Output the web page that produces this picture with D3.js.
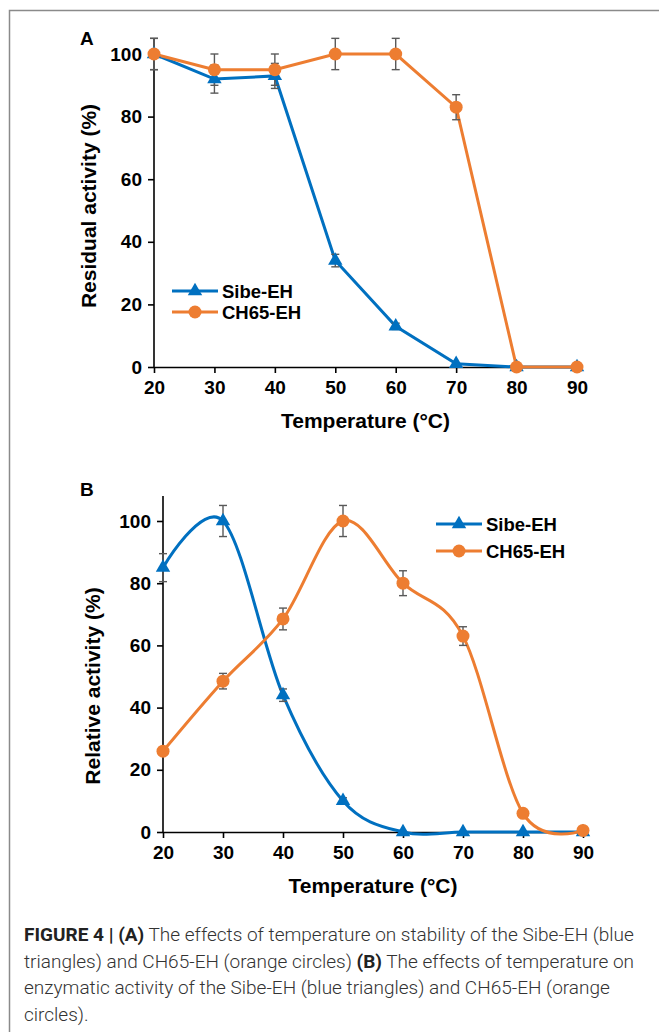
<!DOCTYPE html>
<html>
<head>
<meta charset="utf-8">
<script src="https://cdn.jsdelivr.net/npm/d3@7"></script>
<style>
  body { margin: 0; background: #fff; }
  svg { display: block; }
  .tick text { font-family: "Liberation Sans", Arial, sans-serif; font-weight: bold; }
</style>
</head>
<body>
<div id="figura"></div>
<script>
let temps = [20, 30, 40, 50, 60, 70, 80, 90];
let yTicks = [0, 20, 40, 60, 80, 100];

// panel A - stability (residual activity)
let stabSibe = [100, 92, 93, 34, 13, 1, 0, 0];
let stabSibeErr = [5, 4.5, 4, 2, 1, 0, 0, 0];
let stabCh65 = [100, 95, 95, 100, 100, 83, 0, 0];
let stabCh65Err = [5, 5, 5, 5, 5, 4, 0, 0];

// panel B - activity (relative activity)
let actSibe = [85, 100, 44, 10, 0, 0, 0, 0];
let actSibeErr = [4.5, 5, 2, 1, 0, 0, 0, 0];
let actCh65 = [26, 48.5, 68.5, 100, 80, 63, 6, 0.5];
let actCh65Err = [1, 2.5, 3.5, 5, 4, 3, 0, 0];

let seriesNames = ["Sibe-EH", "CH65-EH"];

let captionLines = [
  [["FIGURE 4 | (A)", true], [" The effects of temperature on stability of the Sibe-EH (blue", false]],
  [["triangles) and CH65-EH (orange circles) ", false], ["(B)", true], [" The effects of temperature on", false]],
  [["enzymatic activity of the Sibe-EH (blue triangles) and CH65-EH (orange", false]],
  [["circles).", false]]
];

let blu = "#0070C0",
    arancio = "#ED7D31",
    grigio = "#595959";

let width = 659,
    height = 1035;

let svg = d3.select("#figura")
  .append("svg")
  .attr("width", width)
  .attr("height", height);

// cornice
svg.append("path")
  .attr("d", "M9.5,1032 V10.5 H659")
  .attr("fill", "none")
  .attr("stroke", "#8a8a8a")
  .attr("stroke-width", 1.5);

function pannello(cfg) {
  let g = svg.append("g");

  let x = d3.scaleLinear().domain([20, 90]).range([cfg.x0, cfg.x1]);
  let y = d3.scaleLinear().domain([0, 100]).range([cfg.y0, cfg.y100]);

  // axes
  let xAxis = g.append("g")
    .attr("transform", "translate(0," + cfg.y0 + ")")
    .call(d3.axisBottom(x).tickValues(temps).tickSize(6).tickPadding(8).tickSizeOuter(0));
  let yAxis = g.append("g")
    .attr("transform", "translate(" + cfg.x0 + ",0)")
    .call(d3.axisLeft(y).tickValues(yTicks).tickSize(6).tickPadding(6).tickSizeOuter(0));

  yAxis.select(".domain").attr("d", "M0," + cfg.y0 + "V" + y(cfg.ymax));
  [xAxis, yAxis].forEach(a => {
    a.select(".domain").attr("stroke", "#000").attr("stroke-width", 1.6);
    a.selectAll(".tick line").attr("stroke", "#000").attr("stroke-width", 1.6);
    a.selectAll(".tick text").attr("font-size", 19).attr("fill", "#000");
  });

  // labels
  g.append("text")
    .attr("x", cfg.labX).attr("y", cfg.labY)
    .attr("font-family", "Liberation Sans, Arial, sans-serif")
    .attr("font-weight", "bold").attr("font-size", 19)
    .text(cfg.lettera);

  g.append("text")
    .attr("x", (cfg.x0 + cfg.x1) / 2).attr("y", cfg.y0 + 61)
    .attr("text-anchor", "middle")
    .attr("font-family", "Liberation Sans, Arial, sans-serif")
    .attr("font-weight", "bold").attr("font-size", 21)
    .text("Temperature (°C)");

  g.append("text")
    .attr("transform", "translate(" + cfg.yTitX + "," + cfg.yTitY + ") rotate(-90)")
    .attr("text-anchor", "middle")
    .attr("font-family", "Liberation Sans, Arial, sans-serif")
    .attr("font-weight", "bold").attr("font-size", 21)
    .text(cfg.yTitle);

  let linea = d3.line()
    .x((d, i) => x(temps[i]))
    .y(d => y(d))
    .curve(cfg.smooth ? d3.curveCardinal.tension(0) : d3.curveLinear);

  let serie = [
    { vals: cfg.sibe, err: cfg.sibeErr, color: blu, tri: true },
    { vals: cfg.ch65, err: cfg.ch65Err, color: arancio, tri: false }
  ];

  serie.forEach(s => {
    g.append("path")
      .datum(s.vals)
      .attr("d", linea)
      .attr("fill", "none")
      .attr("stroke", s.color)
      .attr("stroke-width", 3);
  });

  serie.forEach(s => {
    let eb = g.append("g").attr("stroke", grigio).attr("stroke-width", 1.4);
    s.vals.forEach((v, i) => {
      if (!s.err[i]) return;
      let cx = x(temps[i]), top = y(v + s.err[i]), bot = y(v - s.err[i]);
      eb.append("line").attr("x1", cx).attr("x2", cx).attr("y1", top).attr("y2", bot);
      eb.append("line").attr("x1", cx - 4).attr("x2", cx + 4).attr("y1", top).attr("y2", top);
      eb.append("line").attr("x1", cx - 4).attr("x2", cx + 4).attr("y1", bot).attr("y2", bot);
    });
  });

  serie.forEach(s => {
    let m = g.append("g");
    s.vals.forEach((v, i) => {
      if (s.tri) {
        m.append("path")
          .attr("d", d3.symbol(d3.symbolTriangle, 90)())
          .attr("transform", "translate(" + x(temps[i]) + "," + y(v) + ")")
          .attr("fill", s.color);
      } else {
        m.append("circle")
          .attr("cx", x(temps[i])).attr("cy", y(v)).attr("r", 6.5)
          .attr("fill", s.color);
      }
    });
  });

  // legend
  let leg = g.append("g");
  serie.forEach((s, i) => {
    let ly = cfg.legY + i * cfg.legStep;
    leg.append("line")
      .attr("x1", cfg.legX).attr("x2", cfg.legX + 46)
      .attr("y1", ly).attr("y2", ly)
      .attr("stroke", s.color).attr("stroke-width", 3);
    if (s.tri) {
      leg.append("path")
        .attr("d", d3.symbol(d3.symbolTriangle, 90)())
        .attr("transform", "translate(" + (cfg.legX + 23) + "," + ly + ")")
        .attr("fill", s.color);
    } else {
      leg.append("circle")
        .attr("cx", cfg.legX + 23).attr("cy", ly).attr("r", 6.5)
        .attr("fill", s.color);
    }
    leg.append("text")
      .attr("x", cfg.legX + 50).attr("y", ly + 6.5)
      .attr("font-family", "Liberation Sans, Arial, sans-serif")
      .attr("font-weight", "bold").attr("font-size", 18.5)
      .text(seriesNames[i]);
  });
}

pannello({
  lettera: "A", labX: 80, labY: 45,
  x0: 154, x1: 577, y0: 367, y100: 54, ymax: 105,
  yTitle: "Residual activity (%)", yTitX: 96, yTitY: 206,
  sibe: stabSibe, sibeErr: stabSibeErr, ch65: stabCh65, ch65Err: stabCh65Err,
  smooth: false,
  legX: 172, legY: 291, legStep: 21
});

pannello({
  lettera: "B", labX: 80, labY: 496,
  x0: 163, x1: 583, y0: 832, y100: 521, ymax: 108,
  yTitle: "Relative activity (%)", yTitX: 100, yTitY: 686,
  sibe: actSibe, sibeErr: actSibeErr, ch65: actCh65, ch65Err: actCh65Err,
  smooth: true,
  legX: 436, legY: 524, legStep: 27
});

// caption
let cap = svg.append("g")
  .attr("font-family", "Roboto, 'Liberation Sans', sans-serif")
  .attr("font-size", 19)
  .attr("fill", "#333");

captionLines.forEach((riga, i) => {
  let t = cap.append("text")
    .attr("x", 24)
    .attr("y", 941 + i * 26.5);
  riga.forEach(pezzo => {
    t.append("tspan")
      .attr("font-weight", pezzo[1] ? "bold" : 300)
      .attr("fill", pezzo[1] ? "#222" : "#333")
      .text(pezzo[0]);
  });
});
</script>
</body>
</html>
